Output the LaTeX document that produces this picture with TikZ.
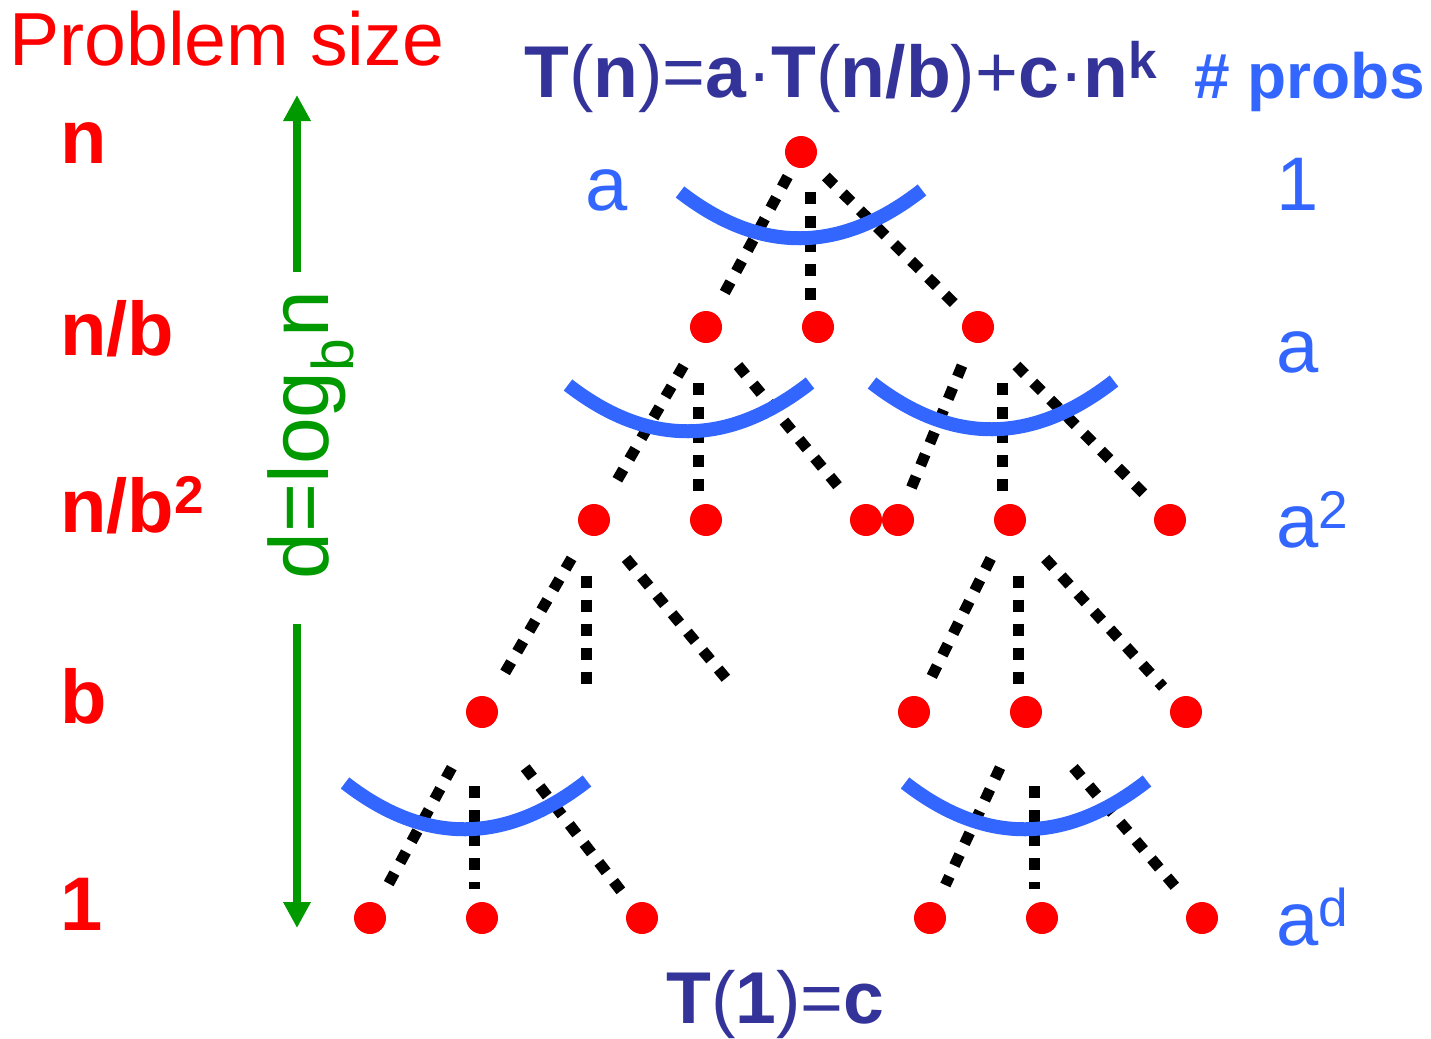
\documentclass[tikz,border=0pt]{standalone}
\usepackage{fontspec}
\setmainfont{Liberation Sans}
\usetikzlibrary{calc,arrows.meta}
\definecolor{probred}{RGB}{255,0,0}
\definecolor{arcblue}{RGB}{51,102,255}
\definecolor{eqblue}{RGB}{51,51,153}
\definecolor{depthgreen}{RGB}{0,153,0}

\begin{document}
\begin{tikzpicture}[x=0.5pt, y=-0.5pt,
  dot/.style={circle, fill=probred, inner sep=0pt, minimum size=16pt},
  dotline/.style={line width=5.5pt, dash pattern=on 6pt off 6pt},
  arcline/.style={arcblue, line width=7pt},
  sizelbl/.style={probred, font=\fontsize{38}{40}\selectfont\bfseries, inner sep=0pt, anchor=base west},
  countlbl/.style={arcblue, font=\fontsize{38}{40}\selectfont, inner sep=0pt, anchor=base west},
  eqlbl/.style={eqblue, font=\fontsize{36.7}{40}\selectfont, inner sep=0pt, anchor=base west},
  garrow/.style={depthgreen, line width=4pt, -{Triangle[width=13pt,length=13pt]}}]
\useasboundingbox (0,0) rectangle (1431,1039);
% headings
\node[probred, font=\fontsize{37.6}{40}\selectfont, inner sep=0pt, anchor=base west] (title) at (9,65) {Problem size};
\node[eqlbl] (rec) at (524,97) {\textbf{T}(\textbf{n})=\textbf{a}·\textbf{T}(\textbf{n/b})+\textbf{c}·\textbf{n}\textsuperscript{\textbf{k}}};
\node[arcblue, font=\fontsize{32}{36}\selectfont\bfseries, inner sep=0pt, anchor=base west] (probs) at (1194,98) {\# probs};
\node[eqlbl] (base) at (666,1023) {\textbf{T}(\textbf{1})=\textbf{c}};
% problem sizes
\node[sizelbl] (s0) at (60,163) {n};
\node[sizelbl] (s1) at (60,355) {n/b};
\node[sizelbl] (s2) at (60,532) {n/b\textsuperscript{2}};
\node[sizelbl] (s3) at (60,723) {b};
\node[sizelbl] (s4) at (60,930) {1};
% number of subproblems
\node[countlbl] (c0) at (1276,210) {1};
\node[countlbl] (c1) at (1276,372) {a};
\node[countlbl] (c2) at (1276,547) {a\textsuperscript{2}};
\node[countlbl] (c4) at (1276,945) {a\textsuperscript{d}};
\node[countlbl, anchor=base] (asub) at (607,210) {a};
% depth
\node[depthgreen, font=\fontsize{42}{44}\selectfont, rotate=90, inner sep=0pt, anchor=base] (depth) at (328,435) {d=log\textsubscript{b}n};
\coordinate (dtop) at (297,95);
\coordinate (dbot) at (297,928);
\draw[garrow, shorten <=9pt] (depth.east -| dtop) -- (dtop);
\draw[garrow, shorten <=22pt] (depth.west -| dbot) -- (dbot);
% tree nodes
\node[dot] (root) at (801,152) {};
\node[dot] (n1a) at (706,327) {};
\node[dot] (n1b) at (818,327) {};
\node[dot] (n1c) at (978,327) {};
\node[dot] (n2a) at (594,520) {};
\node[dot] (n2b) at (706,520) {};
\node[dot] (n2c) at (866,520) {};
\node[dot] (n2d) at (898,520) {};
\node[dot] (n2e) at (1010,520) {};
\node[dot] (n2f) at (1170,520) {};
\node[dot] (n3a) at (482,712) {};
\coordinate (x3a) at (594,712);
\coordinate (x3b) at (754,712);
\node[dot] (n3b) at (914,712) {};
\node[dot] (n3c) at (1026,712) {};
\node[dot] (n3d) at (1186,712) {};
\node[dot] (leaf1) at (370,918) {};
\node[dot] (leaf2) at (482,918) {};
\node[dot] (leaf3) at (642,918) {};
\node[dot] (leaf4) at (930,918) {};
\node[dot] (leaf5) at (1042,918) {};
\node[dot] (leaf6) at (1202,918) {};
% dotted branches
\foreach \up/\lf/\md/\rt/\st in {root/n1a/n1b/n1c/.14, n1a/n2a/n2b/n2c/.2, n1c/n2d/n2e/n2f/.2,
    n2a/n3a/x3a/x3b/.2, n2e/n3b/n3c/n3d/.2, n3a/leaf1/leaf2/leaf3/.27, n3c/leaf4/leaf5/leaf6/.27} {
  \draw[dotline] ($(\up)!\st!(\lf)$) -- ($(\up)!.84!(\lf)$);
  \draw[dotline] ($(\up)!\st!(\rt)$) -- ($(\up)!.87!(\rt)$);
  \draw[dotline] let \p1=($(\up)!\st+.09!(\md)$), \p2=($(\up)!.86!(\md)$), \p3=(\md)
    in (\x3-4pt,\y1) -- (\x3-4pt,\y2);
}
% a subproblems per call
\foreach \ax/\ay in {680/192, 568/385, 872/383, 345/783, 905/783}
  \draw[arcline] (\ax,\ay) .. controls +(80,62) and +(-82,64) .. +(242,-2);
\end{tikzpicture}
\end{document}
